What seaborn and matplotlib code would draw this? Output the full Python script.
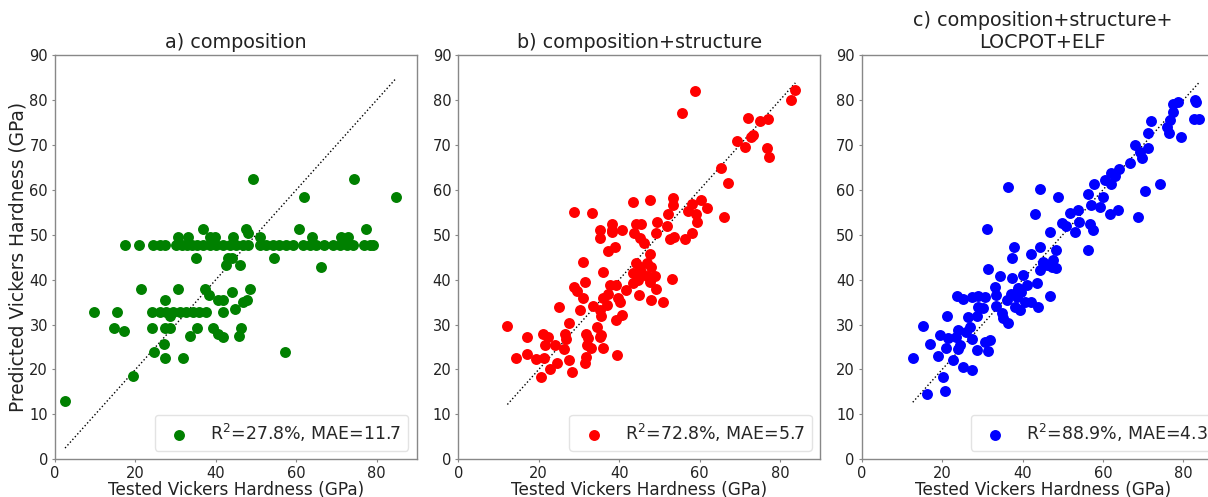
import numpy as np
import matplotlib
matplotlib.use("Agg")
import matplotlib.pyplot as plt
import seaborn as sns

sns.set_style("white")
plt.rcParams['font.family'] = ['DejaVu Sans']

# ---------------- data ----------------
titles = ["a) composition", "b) composition+structure", "c) composition+structure+\nLOCPOT+ELF"]
legend_labels = ["R$^2$=27.8%, MAE=11.7", "R$^2$=72.8%, MAE=5.7", "R$^2$=88.9%, MAE=4.3"]
colors = ["green", "red", "blue"]
xlabel = "Tested Vickers Hardness (GPa)"
ylabel = "Predicted Vickers Hardness (GPa)"
ticks = [0, 20, 40, 60, 80]
yticks = [0, 10, 20, 30, 40, 50, 60, 70, 80, 90]

# panel a
a_band_x = [17.5, 21.0, 24.3, 26.0, 27.3, 30.0, 31.5, 32.7, 34.0, 35.2, 36.8, 38.5, 40.0, 41.8,
            43.4, 45.0, 46.8, 48.0, 50.9, 52.5, 54.2, 55.8, 57.5, 59.2, 61.7, 63.3, 65.0, 67.0,
            69.2, 70.8, 72.5, 74.2, 76.7, 78.3, 79.0]
a_band_y = [47.8] * len(a_band_x)
a_x = [2.5, 19.3, 24.6, 27.4, 31.7, 27.1, 24.0, 27.4, 28.7, 14.6, 17.1, 9.8, 15.3, 21.4, 30.6,
       37.2, 43.9, 48.5, 27.3, 24.0, 26.0, 27.7, 29.3, 31.0, 32.6, 34.3, 35.9, 37.6, 28.5, 38.3,
       40.5, 41.7, 41.7, 44.7, 46.7, 47.8, 33.6, 35.4, 39.3, 40.6, 41.7, 45.7, 46.2, 57.2, 35.0,
       42.4, 43.0, 44.0, 45.9, 54.4, 66.1, 49.3, 61.9, 74.3, 84.7, 36.7, 47.6, 60.6, 77.4, 30.6,
       33.1, 38.5, 39.8, 44.3, 50.9, 63.9, 71.2, 72.9, 48.0] + a_band_x
a_y = [13.0, 18.6, 23.9, 22.6, 22.6, 25.7, 29.2, 29.2, 29.2, 29.2, 28.6, 32.9, 32.9, 37.8, 37.8,
       37.8, 37.3, 37.8, 35.5, 32.9, 32.9, 32.9, 32.9, 32.9, 32.9, 32.9, 32.9, 32.9, 31.8, 36.6,
       35.5, 35.5, 32.9, 33.5, 35.1, 35.5, 27.4, 29.2, 29.2, 28.0, 27.3, 27.4, 29.2, 23.9, 44.9,
       43.2, 44.7, 44.7, 43.2, 44.9, 42.7, 62.4, 58.3, 62.4, 58.3, 51.3, 51.2, 51.2, 51.3, 49.4,
       49.4, 49.4, 49.4, 49.4, 49.4, 49.4, 49.4, 49.4, 50.3] + a_band_y

# panel b
b_x = [12.2, 14.3, 17.0, 17.0, 19.3, 20.5, 21.0, 21.5, 22.4, 21.3, 22.9, 24.0, 24.6, 25.1, 26.3,
       26.6, 26.9, 27.5, 28.2, 27.6, 28.7, 29.4, 30.2, 30.9, 31.5, 31.1, 31.7, 31.9, 31.7, 31.6,
       32.3, 32.9, 33.5, 34.4, 35.2, 35.9, 35.6, 35.2, 35.6, 36.0, 35.9, 36.9, 37.3, 37.7, 37.3,
       38.9, 39.3, 39.3, 39.5, 39.7, 40.2, 40.6, 41.8, 44.3, 44.7, 44.9, 45.5, 46.8, 47.6, 48.0,
       48.0, 48.9, 49.1, 50.8, 53.2, 45.1, 46.1, 49.1, 52.6, 53.7, 56.3, 58.0, 35.2, 38.3, 40.6,
       43.7, 43.5, 45.1, 46.8, 47.6, 43.5,
       28.8, 33.3, 35.2, 38.1, 38.1, 43.5, 44.1, 45.3, 47.6, 49.3, 51.9, 52.2, 53.4, 53.4, 57.0,
       58.0, 59.2, 59.4, 60.3, 61.9, 55.5, 58.8, 65.2, 67.1, 66.0, 69.2, 71.4, 72.0, 72.7, 73.3,
       75.1, 76.9, 76.8, 77.3, 82.6, 83.8]
b_y = [29.7, 22.5, 27.3, 23.4, 22.3, 18.4, 27.8, 25.4, 27.2, 22.5, 20.2, 25.4, 21.5, 34.0, 24.5,
       27.9, 26.7, 22.0, 19.5, 30.4, 38.3, 37.5, 33.2, 44.0, 39.5, 35.8, 28.0, 25.4, 22.8, 21.4,
       26.9, 24.7, 34.1, 29.4, 27.3, 24.7, 27.7, 33.2, 31.8, 41.8, 35.8, 34.3, 36.9, 38.8, 46.4,
       47.3, 38.8, 31.0, 23.2, 35.8, 35.1, 32.1, 37.7, 43.6, 39.9, 36.6, 41.8, 40.7, 45.8, 42.9,
       35.5, 40.7, 37.8, 35.1, 40.1, 49.2, 48.1, 50.3, 49.0, 49.4, 49.0, 50.4, 49.2, 50.7, 51.0,
       50.3, 41.4, 42.9, 43.6, 39.5, 39.2,
       55.0, 54.9, 51.0, 52.4, 51.0, 57.2, 52.4, 52.4, 57.7, 52.9, 51.9, 54.7, 58.2, 56.6, 55.3,
       56.9, 54.7, 52.9, 57.7, 55.9, 77.2, 82.0, 64.8, 61.6, 53.9, 70.9, 69.6, 76.0, 71.8, 72.2,
       75.3, 75.8, 69.4, 67.4, 80.0, 82.2]

# panel c
c_x = [12.7, 15.3, 16.3, 17.1, 19.0, 19.5, 20.1, 20.7, 21.3, 21.0, 21.5, 22.8, 23.4, 24.0, 23.8,
       24.4, 24.0, 25.1, 25.3, 25.9, 26.5, 26.9, 27.3, 27.3, 27.5, 28.6, 28.6, 28.8, 29.0, 30.2,
       30.6, 30.6, 31.5, 31.5, 31.9, 33.1, 33.4, 33.5, 34.4, 34.8, 35.2, 36.0, 36.4, 37.0, 37.3,
       37.3, 37.8, 38.1, 38.5, 38.9, 39.3, 39.7, 40.2, 40.6, 41.0, 42.2, 42.2, 43.5, 43.9, 44.3,
       44.3, 45.0, 46.8, 46.8, 47.6, 48.3, 48.4, 46.0, 45.1, 47.2, 53.0, 56.2, 57.4, 31.1,
       36.3, 43.1, 44.3, 48.7, 49.7, 50.8, 51.9, 53.8, 54.1, 56.2, 56.9, 56.7, 57.7, 59.2, 59.9,
       60.5, 61.7, 61.9, 62.1, 62.9, 63.8, 64.0, 66.8, 67.9, 68.7, 69.2, 69.6, 70.4, 71.2, 71.2,
       71.9, 74.1, 75.8, 76.4, 76.6, 77.4, 77.3, 78.7, 79.5, 82.8, 82.6, 83.9, 83.0]
c_y = [22.5, 29.7, 14.5, 25.7, 23.0, 27.7, 18.4, 15.3, 31.9, 24.7, 26.9, 22.1, 27.3, 28.8, 36.4,
       25.4, 24.5, 35.7, 20.5, 28.4, 31.6, 29.5, 26.7, 36.2, 19.9, 31.8, 24.3, 36.4, 34.0, 33.6,
       36.2, 26.2, 42.3, 24.0, 26.6, 38.3, 34.1, 36.6, 40.7, 32.5, 31.4, 35.5, 30.3, 36.9, 40.3,
       44.7, 47.3, 34.0, 36.2, 38.1, 33.2, 37.3, 41.0, 35.1, 38.8, 35.1, 45.8, 39.2, 33.8, 47.3,
       42.1, 44.0, 36.4, 50.7, 44.4, 46.7, 42.5, 43.2, 43.6, 42.9, 50.7, 46.7, 51.0, 51.3,
       60.7, 54.7, 60.1, 58.3, 52.7, 51.9, 54.9, 55.4, 52.9, 59.0, 56.6, 52.4, 61.2, 56.2, 58.5,
       62.2, 54.7, 63.7, 61.2, 63.0, 55.4, 64.6, 66.0, 70.0, 53.9, 68.5, 67.0, 59.8, 69.2, 72.6,
       75.2, 61.3, 74.0, 72.6, 75.5, 77.4, 79.2, 79.6, 71.7, 80.0, 75.7, 75.7, 79.6]

panels = [(a_x, a_y), (b_x, b_y), (c_x, c_y)]

# ---------------- figure ----------------
W, H = 1208, 497
fig = plt.figure(figsize=(W / 100, H / 100), dpi=100)
ax_w, ax_h = 362 / W, 404.3 / H
bottom = (H - 459.3) / H
lefts = [55 / W, 458.3 / W, 861.7 / W]

text_col = "#222222"
for i, ((xs, ys), left) in enumerate(zip(panels, lefts)):
    ax = fig.add_axes([left, bottom, ax_w, ax_h])
    sns.scatterplot(x=xs, y=ys, color=colors[i], s=62, linewidth=0, ax=ax,
                    label=legend_labels[i], zorder=3)
    lo, hi = min(xs), max(xs)
    ax.plot([lo, hi], [lo, hi], linestyle=":", color="black", linewidth=1.0, zorder=2)
    ax.set_xlim(0, 90)
    ax.set_ylim(0, 90)
    ax.set_xticks(ticks)
    ax.set_yticks(yticks)
    ax.tick_params(axis="both", labelsize=10.5, colors="#888888", labelcolor=text_col,
                   length=2.5, width=0.8, direction="out", bottom=True, left=True, pad=2.5)
    for sp in ax.spines.values():
        sp.set_color("#888888")
        sp.set_linewidth(1.0)
    ax.set_title(titles[i], fontsize=13.8, color=text_col, pad=5)
    ax.set_xlabel(xlabel, fontsize=12.2, color=text_col, labelpad=0)
    if i == 0:
        ax.set_ylabel(ylabel, fontsize=13.4, color=text_col, labelpad=1)
    else:
        ax.set_ylabel("")
    ax.legend(loc="lower right", fontsize=12.5, frameon=True, edgecolor="#dddddd")

fig.savefig("out.png", dpi=100)
